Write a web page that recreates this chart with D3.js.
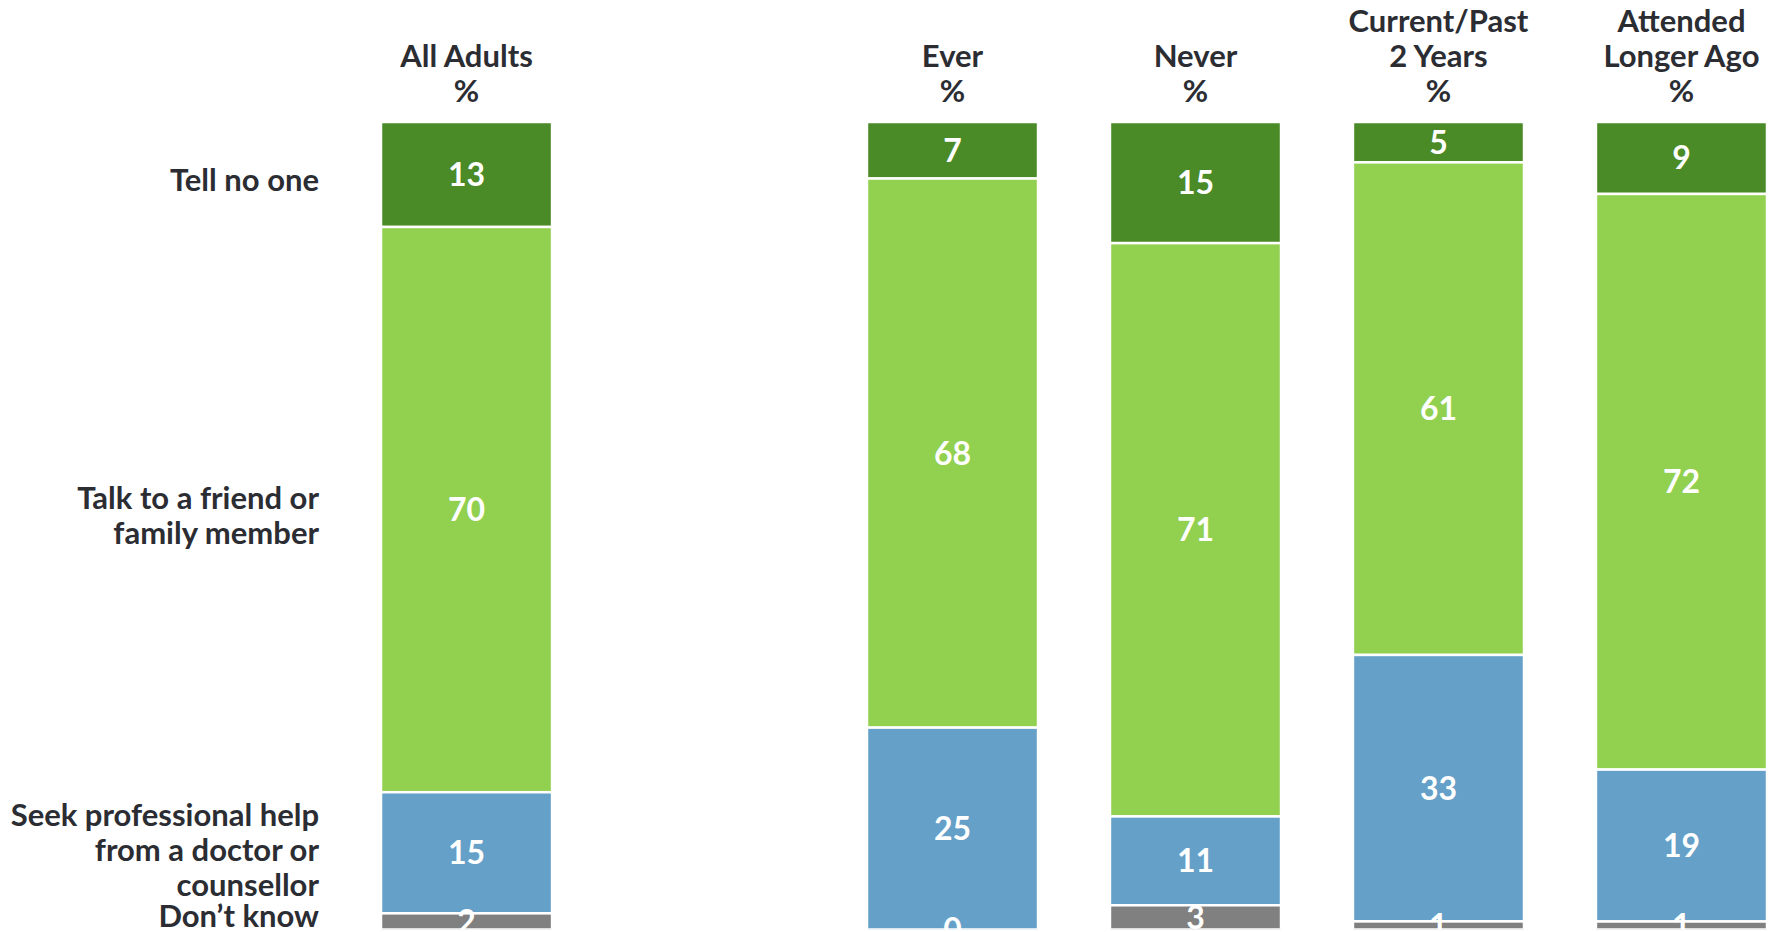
<!DOCTYPE html>
<html>
<head>
<meta charset="utf-8">
<script src="https://cdn.jsdelivr.net/npm/d3@7"></script>
<style>
  html, body { margin: 0; padding: 0; background: #ffffff; }
  svg { display: block; }
  text { font-family: Lato, "DejaVu Sans Condensed", sans-serif; font-weight: 700; }
</style>
</head>
<body>
<svg id="chart" width="1773" height="932"></svg>
<script>
// Response categories (stack order, top to bottom)
const responses = ["Tell no one", "Talk to a friend or family member",
  "Seek professional help from a doctor or counsellor", "Don’t know"];
const responseLines = [
  ["Tell no one"],
  ["Talk to a friend or", "family member"],
  ["Seek professional help", "from a doctor or", "counsellor"],
  ["Don’t know"]
];
const responseColors = ["#4a8a27", "#92d050", "#65a0c8", "#808080"];

// Groups; an empty slot separates the total from the breakdown
const groups = ["All Adults", "", "Ever", "Never", "Current/Past 2 Years", "Attended Longer Ago"];
const groupHeaders = {
  "All Adults": ["All Adults", "%"],
  "Ever": ["Ever", "%"],
  "Never": ["Never", "%"],
  "Current/Past 2 Years": ["Current/Past", "2 Years", "%"],
  "Attended Longer Ago": ["Attended", "Longer Ago", "%"]
};

// Percentages per group, in response order
const dataGroups   = ["All Adults", "Ever", "Never", "Current/Past 2 Years", "Attended Longer Ago"];
const tellNoOne    = [13, 7, 15, 5, 9];
const talkFriend   = [70, 68, 71, 61, 72];
const seekProf     = [15, 25, 11, 33, 19];
const dontKnow     = [2, 0, 3, 1, 1];

const rows = dataGroups.map((g, i) => ({
  group: g,
  [responses[0]]: tellNoOne[i],
  [responses[1]]: talkFriend[i],
  [responses[2]]: seekProf[i],
  [responses[3]]: dontKnow[i]
}));

const svg = d3.select("#chart");
const plotTop = 122, plotBottom = 929.5;

const x = d3.scaleBand()
  .domain(groups)
  .range([381, 1767])
  .paddingInner(0.296)
  .paddingOuter(0);

// Each column is shown as shares of its own total, first response on top
const y = d3.scaleLinear().domain([0, 1]).range([plotTop, plotBottom]);

const stack = d3.stack()
  .keys(responses)
  .offset(d3.stackOffsetExpand);
const series = stack(rows);

svg.append("defs").append("clipPath").attr("id", "plot-clip")
  .append("rect")
  .attr("x", 0).attr("y", 0)
  .attr("width", 1773).attr("height", plotBottom);

const plot = svg.append("g").attr("clip-path", "url(#plot-clip)");

// Segments
const layers = plot.selectAll("g.layer")
  .data(series)
  .join("g")
  .attr("class", "layer")
  .attr("fill", (d, i) => responseColors[i]);

layers.selectAll("rect")
  .data(d => d.map(p => Object.assign(p, { key: d.key })))
  .join("rect")
  .attr("x", d => x(d.data.group))
  .attr("width", x.bandwidth())
  .attr("y", d => y(d[0]))
  .attr("height", d => Math.max(0, y(d[1]) - y(d[0])))
  .attr("stroke", "#ffffff")
  .attr("stroke-width", 2.5);

// Value labels centred in each segment
layers.selectAll("text")
  .data(d => d)
  .join("text")
  .attr("x", d => x(d.data.group) + x.bandwidth() / 2)
  .attr("y", d => (y(d[0]) + y(d[1])) / 2)
  .attr("dy", "0.36em")
  .attr("text-anchor", "middle")
  .attr("fill", "#ffffff")
  .attr("font-size", 32)
  .text(d => d.data[d.key]);

// Column headers, bottom-aligned above the bars
const lineH = 35;
const headerBase = 102;
const headers = svg.append("g").attr("fill", "#2b2d33").attr("font-size", 31)
  .attr("text-anchor", "middle");
dataGroups.forEach(g => {
  const lines = groupHeaders[g];
  const cx = x(g) + x.bandwidth() / 2;
  lines.forEach((ln, j) => {
    headers.append("text")
      .attr("x", cx)
      .attr("y", headerBase - (lines.length - 1 - j) * lineH)
      .text(ln);
  });
});

// Response labels to the left of the All Adults column.
// Each block sits on its segment's middle; blocks are then nudged up
// from the bottom so none runs past the page edge or into the next one.
const first = series.map(s => s[0]);
const capShift = 11;          // baseline offset from a line's visual centre
const labelDrop = 6;          // blocks sit slightly below the segment middle
const maxBaseline = 927;
const labelGap = 31.5;        // minimum distance between neighbouring baselines

const blocks = responseLines.map((lines, i) => {
  const seg = first[i];
  const mid = (y(seg[0]) + y(seg[1])) / 2 + labelDrop;
  const firstBase = mid - (lines.length - 1) * lineH / 2 + capShift;
  return { lines, firstBase };
});
let limit = maxBaseline;
for (let i = blocks.length - 1; i >= 0; i--) {
  const b = blocks[i];
  const lastBase = b.firstBase + (b.lines.length - 1) * lineH;
  if (lastBase > limit) b.firstBase -= (lastBase - limit);
  limit = b.firstBase - labelGap;
}

const labels = svg.append("g").attr("fill", "#2b2d33").attr("font-size", 31)
  .attr("text-anchor", "end");
blocks.forEach(b => {
  b.lines.forEach((ln, j) => {
    labels.append("text")
      .attr("x", 319)
      .attr("y", b.firstBase + j * lineH)
      .text(ln);
  });
});
</script>
</body>
</html>
